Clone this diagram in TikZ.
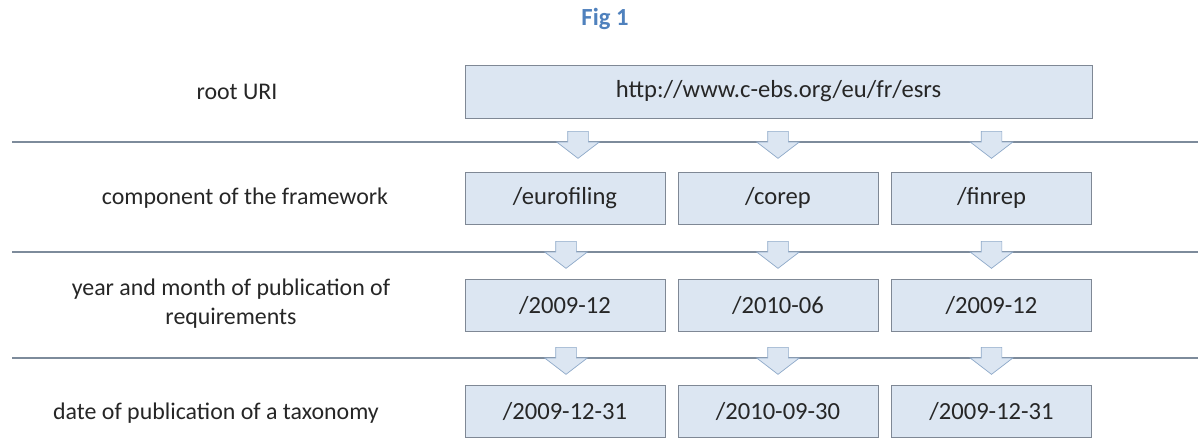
\documentclass[tikz,border=0pt]{standalone}
\usepackage{fontspec}
\setmainfont{Carlito}
\usepackage{xcolor}
\usetikzlibrary{shapes.arrows}

\definecolor{boxblue}{HTML}{DCE6F2}
\definecolor{boxline}{HTML}{7F8895}
\definecolor{arrowline}{HTML}{8EA9C9}
\definecolor{sepgray}{HTML}{7D8B9B}
\definecolor{txtgray}{HTML}{262626}
\definecolor{figblue}{HTML}{4F81BD}

\begin{document}
\begin{tikzpicture}[x=0.02cm, y=-0.02cm,
				every node/.style={text=txtgray, font=\fontsize{13.6}{16.5}\selectfont},
				uribox/.style={draw=boxline, fill=boxblue, minimum width=4cm,
					minimum height=1.04cm, inner sep=0pt, font=\fontsize{14}{17}\selectfont},
				downarrow/.style={single arrow, draw=arrowline, fill=boxblue,
					rotate=-90, minimum width=0.84cm, minimum height=0.54cm,
					single arrow head extend=0.22cm, single arrow tip angle=105,
					inner xsep=0pt, inner ysep=0.2cm, anchor=tail},
				sepline/.style={draw=sepgray, line width=0.8pt}]
				\useasboundingbox (0,0) rectangle (1198,437);
				% title
				\node at (605,19) (title) [text=figblue, font=\bfseries\fontsize{14}{16}\selectfont] {Fig 1};
				% separators
				\coordinate (s1l) at (12,142);  \coordinate (s1r) at (1198,142);
				\coordinate (s2l) at (12,252);  \coordinate (s2r) at (1198,252);
				\coordinate (s3l) at (12,358);  \coordinate (s3r) at (1198,358);
				\draw[sepline] (s1l) -- (s1r);
				\draw[sepline] (s2l) -- (s2r);
				\draw[sepline] (s3l) -- (s3r);
				% row labels
				\node at (237,92) (lroot) {root URI};
				\node at (245,198) (lcomp) {component of the framework};
				\node at (231,304) (lyear) [align=center] {year and month of publication of\\requirements};
				\node at (216,413) (ldate) {date of publication of a taxonomy};
				% boxes
				\node at (778.5,91.5) (root) [uribox, minimum width=12.54cm, minimum height=1.06cm] {http://www.c-ebs.org/eu/fr/esrs};
				\node at (565,198) (euro) [uribox] {/eurofiling};
				\node at (778,198) (corep) [uribox] {/corep};
				\node at (991.5,198) (finrep) [uribox] {/finrep};
				\node at (565,305) (euroy) [uribox] {/2009-12};
				\node at (778,305) (corepy) [uribox] {/2010-06};
				\node at (991.5,305) (finrepy) [uribox] {/2009-12};
				\node at (565,411) (eurod) [uribox] {/2009-12-31};
				\node at (778,411) (corepd) [uribox] {/2010-09-30};
				\node at (991.5,411) (finrepd) [uribox] {/2009-12-31};
				% block arrows
				\node at (578,131) (a11) [downarrow] {};
				\node at (778,131) (a12) [downarrow] {};
				\node at (991.5,131) (a13) [downarrow] {};
				\node at (566,241) (a21) [downarrow] {};
				\node at (778,241) (a22) [downarrow] {};
				\node at (991.5,241) (a23) [downarrow] {};
				\node at (566,347) (a31) [downarrow] {};
				\node at (778,347) (a32) [downarrow] {};
				\node at (991.5,347) (a33) [downarrow] {};
			\end{tikzpicture}
\end{document}
